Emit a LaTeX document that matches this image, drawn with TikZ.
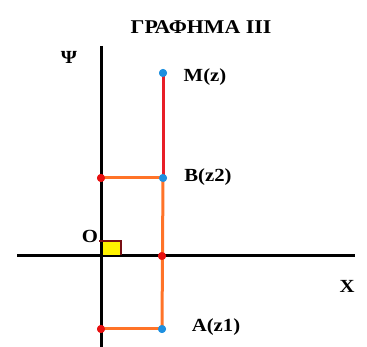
\documentclass[tikz,border=0pt]{standalone}
\usepackage{fontspec}
\setmainfont{Liberation Serif}[FakeStretch=1.12]
\begin{document}
\begin{tikzpicture}[x=1pt,y=-1pt,
  axis/.style={line width=3pt,black},
  orangeline/.style={line width=3pt,draw={rgb,255:red,255;green,115;blue,40}},
  redline/.style={line width=3pt,draw={rgb,255:red,232;green,30;blue,40}},
  bluedot/.style={circle,inner sep=0pt,minimum size=8pt,fill={rgb,255:red,30;green,144;blue,224}},
  reddot/.style={circle,inner sep=0pt,minimum size=8pt,fill={rgb,255:red,232;green,16;blue,16}},
  lbl/.style={font=\bfseries\fontsize{18.5}{20}\selectfont,inner sep=0pt}]
\useasboundingbox (0,0) rectangle (367,347);
% axes
\coordinate (xl) at (17,256);
\coordinate (xr) at (355,256);
\coordinate (yt) at (101,46);
\coordinate (yb) at (101,347);
\draw[axis] (xl) -- (xr);
\draw[axis] (yt) -- (yb);
% yellow square
\fill[yellow] (103,242) rectangle (120,255);
\draw[line width=2.5pt,draw={rgb,255:red,120;green,15;blue,20}] (99,241) -- (121,241) -- (121,255);
% points
\node[bluedot] (M) at (163,73) {};
\node[bluedot] (B) at (163,178) {};
\node[bluedot] (A) at (162,329) {};
\node[reddot] (By) at (101,178) {};
\node[reddot] (Ay) at (101,329) {};
\node[reddot] (Cx) at (162,256) {};
% connectors
\draw[redline] (M.center) -- (B.center);
\draw[orangeline] (B.center) -- (A.center);
\draw[orangeline] (By.center) -- (B.center);
\draw[orangeline] (Ay.center) -- (A.center);
% redraw dots on top
\node[bluedot] at (M) {};
\node[bluedot] at (B) {};
\node[bluedot] at (A) {};
\node[reddot] at (By) {};
\node[reddot] at (Ay) {};
\node[reddot] at (Cx) {};
% labels
\node[lbl,font=\bfseries\fontsize{19.5}{21}\selectfont] (title) at (201,27) {ΓΡΑΦΗΜΑ ΙΙΙ};
\node[lbl] (psi) at (69,57) {Ψ};
\node[lbl] (Ml) at (205,77) {M(z)};
\node[lbl] (Bl) at (208,177) {B(z2)};
\node[lbl] (Al) at (216,327) {A(z1)};
\node[lbl] (O) at (90,236) {O};
\node[lbl] (X) at (347,286) {X};
\end{tikzpicture}
\end{document}
